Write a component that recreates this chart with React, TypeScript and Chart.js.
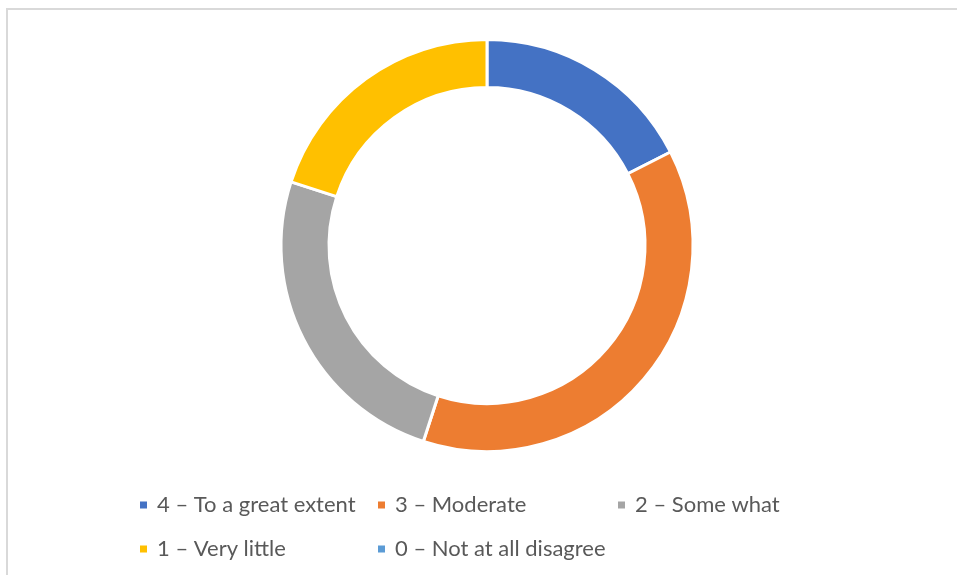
import React, { useEffect, useRef } from "react";
import { Chart, registerables } from "chart.js";

Chart.register(...registerables);

const labels = [
  "4 – To a great extent",
  "3 – Moderate",
  "2 – Some what",
  "1 – Very little",
  "0 – Not at all disagree",
];
const values = [7, 15, 10, 8, 0];
const colors = ["#4472C4", "#ED7D31", "#A5A5A5", "#FFC000", "#5B9BD5"];

const legendCols = [140, 378, 618];
const legendRows = [505, 549];

const framePlugin = {
  id: "frame",
  beforeDraw(chart: any) {
    const ctx = chart.ctx;
    ctx.save();
    ctx.fillStyle = "#ffffff";
    ctx.fillRect(0, 0, chart.width, chart.height);
    ctx.strokeStyle = "#D9D9D9";
    ctx.lineWidth = 2;
    ctx.strokeRect(7, 9, chart.width + 20, chart.height + 20);
    ctx.restore();
  },
  afterDraw(chart: any) {
    const ctx = chart.ctx;
    ctx.save();
    ctx.font = "22px Lato";
    ctx.textBaseline = "middle";
    ctx.textAlign = "left";
    const lbls = chart.data.labels as string[];
    const bg = chart.data.datasets[0].backgroundColor as string[];
    lbls.forEach((l, i) => {
      const col = i % 3;
      const row = Math.floor(i / 3);
      const x = legendCols[col];
      const y = legendRows[row];
      ctx.fillStyle = bg[i];
      ctx.fillRect(x, y - 3.5, 7, 7);
      ctx.fillStyle = "#595959";
      ctx.fillText(l, x + 17, y);
    });
    ctx.restore();
  },
};

export default function App() {
  const ref = useRef<HTMLCanvasElement>(null);
  useEffect(() => {
    if (!ref.current) return;
    const chart = new Chart(ref.current, {
      type: "doughnut",
      data: {
        labels,
        datasets: [
          {
            data: values,
            backgroundColor: colors,
            borderColor: "#ffffff",
            borderWidth: 3,
          },
        ],
      },
      options: {
        animation: false,
        responsive: false,
        cutout: "76.7%",
        radius: 206,
        layout: { padding: { left: 17, right: 0, top: 39.5, bottom: 123.5 } },
        plugins: {
          legend: { display: false },
          tooltip: { enabled: false },
        },
      },
      plugins: [framePlugin],
    });
    return () => chart.destroy();
  }, []);
  return (
    <div style={{ position: "fixed", left: 0, top: 0, width: 957, height: 575 }}>
      <canvas ref={ref} width={957} height={575} style={{ width: 957, height: 575 }} />
    </div>
  );
}
